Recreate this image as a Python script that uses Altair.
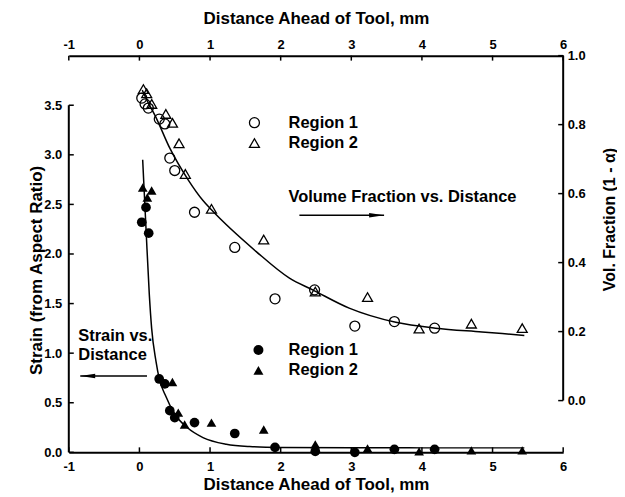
import altair as alt
import pandas as pd

# ---------------- data ----------------
# Strain (left axis) - filled markers
strain_r1_x = [0.033, 0.093, 0.131, 0.28, 0.36, 0.43, 0.50, 0.78, 1.35, 1.92, 2.49, 3.05, 3.61, 4.18]
strain_r1_y = [2.32, 2.47, 2.21, 0.74, 0.69, 0.42, 0.35, 0.30, 0.19, 0.05, 0.01, 0.00, 0.03, 0.03]
strain_r2_x = [0.047, 0.112, 0.173, 0.467, 0.55, 0.64, 1.02, 1.76, 2.49, 3.23, 3.96, 4.70, 5.42]
strain_r2_y = [2.67, 2.57, 2.64, 0.71, 0.40, 0.28, 0.30, 0.23, 0.08, 0.04, 0.01, 0.02, 0.02]

# Volume fraction (right axis) - open markers
vf_r1_x = [0.033, 0.080, 0.126, 0.281, 0.360, 0.43, 0.50, 0.78, 1.35, 1.92, 2.48, 3.05, 3.61, 4.18]
vf_r1_y = [0.877, 0.860, 0.848, 0.816, 0.802, 0.703, 0.667, 0.546, 0.444, 0.295, 0.321, 0.216, 0.229, 0.210]
vf_r2_x = [0.056, 0.103, 0.174, 0.374, 0.468, 0.561, 0.65, 1.02, 1.76, 2.49, 3.23, 3.96, 4.70, 5.42]
vf_r2_y = [0.903, 0.891, 0.860, 0.831, 0.805, 0.746, 0.657, 0.556, 0.467, 0.316, 0.300, 0.209, 0.223, 0.210]

# fitted curves
strain_fit_x = [0.046, 0.093, 0.14, 0.173, 0.234, 0.283, 0.361, 0.502, 0.676, 0.90, 1.23, 1.56, 2.0, 3.0, 4.0, 5.45]
strain_fit_y = [2.95, 2.26, 1.59, 1.25, 0.92, 0.735, 0.585, 0.384, 0.25, 0.149, 0.082, 0.059, 0.05, 0.046, 0.045, 0.045]
vf_fit_x = [0.04, 0.12, 0.22, 0.432, 0.69, 0.90, 1.02, 1.654, 2.124, 2.453, 2.97, 3.63, 4.19, 4.85, 5.45]
vf_fit_y = [0.90, 0.865, 0.827, 0.731, 0.64, 0.58, 0.553, 0.432, 0.355, 0.321, 0.268, 0.227, 0.210, 0.199, 0.189]

regions = ["Region 1", "Region 2"]

# axes
x_ticks = [-1, 0, 1, 2, 3, 4, 5, 6]
strain_ticks = [0.0, 0.5, 1.0, 1.5, 2.0, 2.5, 3.0, 3.5]
vf_ticks = [0.0, 0.2, 0.4, 0.6, 0.8, 1.0]
strain_span = [0.0, 3.5]
vf_span = [0.0, 1.0]

# annotations (in distance / strain units)
ann_text = ["Volume Fraction vs. Distance", "Strain vs.", "Distance"]
ann_x = [2.11, -0.866, -0.866]
ann_y = [2.57, 1.171, 0.98]
arrow_from = [2.265, 0.107]
arrow_to = [3.464, -0.838]
arrow_y = [2.39, 0.769]
arrow_head = ["M-2,-0.3L0,0L-2,0.3Z", "M2,-0.3L0,0L2,0.3Z"]

# ---------------- chart ----------------
W, H = 496, 398
FONT = "Liberation Sans"

def xs():
    return alt.Scale(domain=[-1, 6], nice=False, zero=False)

def ls():
    return alt.Scale(domain=[0, 4], nice=False, zero=False)

def rs():
    return alt.Scale(domain=[-0.15, 1.0], nice=False, zero=False)

axis_style = dict(
    grid=False, ticks=False, labelFont=FONT, labelFontSize=13,
    labelFontWeight="bold", labelColor="black", titleFont=FONT,
    titleFontWeight="bold", titleColor="black", domainColor="black", domainWidth=2,
    labelFlush=False,
)

strain_df = pd.DataFrame({
    "x": strain_r1_x + strain_r2_x,
    "y": strain_r1_y + strain_r2_y,
    "region": [regions[0]] * len(strain_r1_x) + [regions[1]] * len(strain_r2_x),
})
vf_df = pd.DataFrame({
    "x": vf_r1_x + vf_r2_x,
    "y": vf_r1_y + vf_r2_y,
    "region": [regions[0]] * len(vf_r1_x) + [regions[1]] * len(vf_r2_x),
})

def legend(lx, ly, off):
    return alt.Legend(
        orient="none", legendX=lx, legendY=ly, title=None, labelFont=FONT,
        labelFontSize=16.5, labelFontWeight="bold", labelColor="black",
        symbolSize=100, symbolStrokeWidth=1.3, labelOffset=off, rowPadding=3.5, padding=0,
    )

shape_range = ["circle", "triangle-up"]

# axis-carrying layers
strain_pts = alt.Chart(strain_df).mark_point(filled=True, size=95, color="black", opacity=1).encode(
    x=alt.X("x:Q", scale=xs(), axis=alt.Axis(
        orient="bottom", title="Distance Ahead of Tool, mm", values=x_ticks,
        labelExpr="'' + datum.value", labelPadding=8, titlePadding=3, titleFontSize=17, **axis_style)),
    y=alt.Y("y:Q", scale=ls(), axis=alt.Axis(
        orient="left", title="Strain (from Aspect Ratio)", values=strain_ticks, format=".1f",
        domain=False, labelPadding=7, titleFontSize=17, titleX=-32, titleY=215,
        titleAngle=270, titleBaseline="middle", titleAlign="center", **axis_style)),
    shape=alt.Shape("region:N", scale=alt.Scale(domain=regions, range=shape_range),
                    legend=legend(182, 287, 22)),
)

vf_pts = alt.Chart(vf_df).mark_point(filled=False, size=100, color="black", strokeWidth=1.3, opacity=1).encode(
    x=alt.X("x:Q", scale=xs(), axis=alt.Axis(
        orient="top", title="Distance Ahead of Tool, mm", values=x_ticks,
        labelExpr="'' + datum.value", labelPadding=4, titlePadding=11, titleFontSize=17, **axis_style)),
    y=alt.Y("y:Q", scale=rs(), axis=alt.Axis(
        orient="right", title="Vol. Fraction (1 - α)", values=vf_ticks, format=".1f",
        domain=False, labelPadding=4, titleFontSize=16, titleX=46, titleY=164,
        titleAngle=270, titleBaseline="middle", titleAlign="center", **axis_style)),
    shape=alt.Shape("region:N", scale=alt.Scale(domain=regions, range=shape_range),
                    legend=legend(178, 59, 26)),
)

strain_fit = alt.Chart(pd.DataFrame({"x": strain_fit_x, "y": strain_fit_y})).mark_line(
    color="black", strokeWidth=1.5, interpolate="monotone").encode(
    x=alt.X("x:Q", scale=xs(), axis=None), y=alt.Y("y:Q", scale=ls(), axis=None))

vf_fit = alt.Chart(pd.DataFrame({"x": vf_fit_x, "y": vf_fit_y})).mark_line(
    color="black", strokeWidth=1.5, interpolate="monotone").encode(
    x=alt.X("x:Q", scale=xs(), axis=None), y=alt.Y("y:Q", scale=rs(), axis=None))

left_spine = alt.Chart(pd.DataFrame({"x": [x_ticks[0]], "y": [strain_span[0]], "y2": [strain_span[1]]})).mark_rule(
    color="black", strokeWidth=2).encode(
    x=alt.X("x:Q", scale=xs(), axis=None), y=alt.Y("y:Q", scale=ls(), axis=None), y2="y2:Q")

right_spine = alt.Chart(pd.DataFrame({"x": [x_ticks[-1]], "y": [vf_span[0]], "y2": [vf_span[1]]})).mark_rule(
    color="black", strokeWidth=2).encode(
    x=alt.X("x:Q", scale=xs(), axis=None), y=alt.Y("y:Q", scale=rs(), axis=None), y2="y2:Q")

left_ticks = alt.Chart(pd.DataFrame({"t": strain_ticks})).mark_rule(color="black", strokeWidth=1.5).encode(
    y=alt.Y("t:Q", scale=ls(), axis=None), x=alt.value(0), x2=alt.value(5))

right_ticks = alt.Chart(pd.DataFrame({"t": vf_ticks})).mark_rule(color="black", strokeWidth=1.5).encode(
    y=alt.Y("t:Q", scale=rs(), axis=None), x=alt.value(W), x2=alt.value(W - 5))

bottom_ticks = alt.Chart(pd.DataFrame({"t": x_ticks})).mark_rule(color="black", strokeWidth=1.5).encode(
    x=alt.X("t:Q", scale=xs(), axis=None), y=alt.value(H), y2=alt.value(H - 5))

top_ticks = alt.Chart(pd.DataFrame({"t": x_ticks})).mark_rule(color="black", strokeWidth=1.5).encode(
    x=alt.X("t:Q", scale=xs(), axis=None), y=alt.value(0), y2=alt.value(5))

ann = alt.Chart(pd.DataFrame({"x": ann_x, "y": ann_y, "label": ann_text})).mark_text(
    align="left", baseline="middle", font=FONT, fontSize=16.5, fontWeight="bold", color="black").encode(
    x=alt.X("x:Q", scale=xs(), axis=None), y=alt.Y("y:Q", scale=ls(), axis=None), text="label:N")

arrow_df = pd.DataFrame({"x": arrow_from, "x2": arrow_to, "y": arrow_y, "head": arrow_head})
arrows = alt.Chart(arrow_df).mark_rule(color="black", strokeWidth=1.5).encode(
    x=alt.X("x:Q", scale=xs(), axis=None), x2="x2:Q", y=alt.Y("y:Q", scale=ls(), axis=None))
heads = alt.Chart(arrow_df).mark_point(filled=True, size=225, color="black", opacity=1).encode(
    x=alt.X("x2:Q", scale=xs(), axis=None), y=alt.Y("y:Q", scale=ls(), axis=None),
    shape=alt.Shape("head:N", scale=None))

chart = (
    alt.layer(strain_pts, vf_pts, strain_fit, vf_fit, left_spine, right_spine,
              left_ticks, right_ticks, bottom_ticks, top_ticks, ann, arrows, heads)
    .resolve_scale(y="independent", shape="independent")
    .resolve_axis(x="independent", y="independent")
    .resolve_legend(shape="independent")
    .properties(width=W, height=H, padding={"left": 20, "top": 1, "right": 0, "bottom": 0},
                background="white")
    .configure_view(stroke=None)
)

chart.save("out.html", embed_options={"renderer": "svg", "actions": False})
